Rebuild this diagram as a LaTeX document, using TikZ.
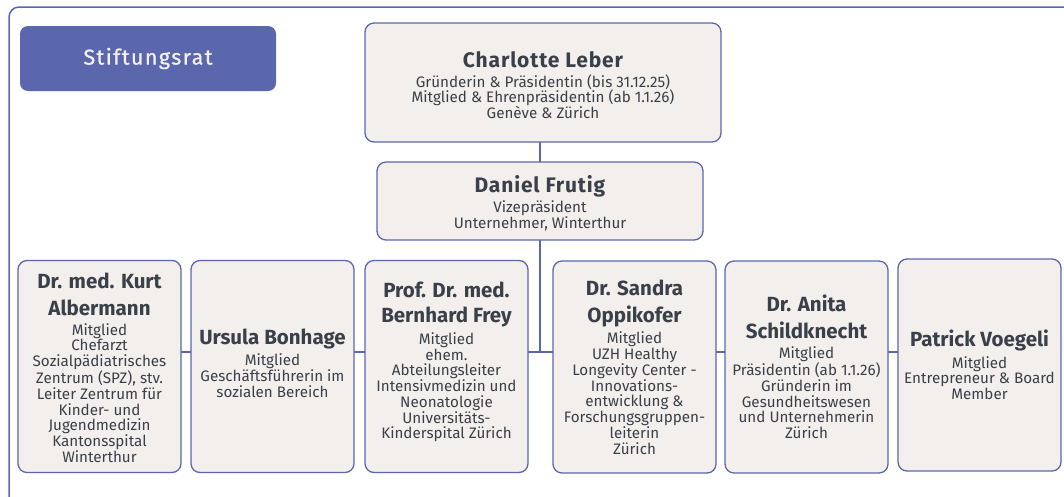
\documentclass[tikz,border=0pt]{standalone}
\usepackage{fontspec}
\setmainfont{Fira Sans}
\newfontfamily\titlefont[LetterSpace=6.5, FakeBold=0.8]{Fira Sans}
\newfontfamily\topnamefont[LetterSpace=4]{Fira Sans}
\definecolor{frameblue}{HTML}{5B67AD}
\definecolor{boxfill}{HTML}{F2EFEC}
\definecolor{txt}{HTML}{3A4049}
\definecolor{titletxt}{HTML}{F3F0ED}
\newcommand{\nm}[1]{{\fontsize{20.5}{21}\selectfont\bfseries #1}}
\newcommand{\tnm}[1]{{\topnamefont\fontsize{21}{21}\selectfont\bfseries #1}}
\tikzset{
  member/.style={draw=frameblue, fill=boxfill, rounded corners=9pt, line width=1.3pt,
    align=center, text=txt, inner sep=0pt, font=\fontsize{15.2}{15.75}\selectfont},
  conn/.style={draw=frameblue, line width=1.3pt},
}
\begin{document}
\begin{tikzpicture}[x=1pt,y=-1pt]
\useasboundingbox (0,0) rectangle (1064,496);
% outer frame
\draw[frameblue, line width=1.5pt, rounded corners=10pt] (9,497) -- (9,7) -- (1066,7);
% title
\node[fill=frameblue, rounded corners=8pt, minimum width=256pt, minimum height=65pt, inner sep=0pt,
  text=titletxt, font=\titlefont\fontsize{21.5}{24}\selectfont] (title) at (148,58.5) {Stiftungsrat};

% connectors (behind boxes)
\coordinate (junction) at (540,352);
\draw[conn] (99.5,352) -- (979.5,352);
\draw[conn] (540,142) -- (540,352);

\node[member, minimum width=356pt, minimum height=119pt] (leber) at (543,82.5)
 {\rule{0pt}{21pt}\tnm{Charlotte Leber}\\[4pt]
  Gründerin \& Präsidentin (bis 31.12.25)\\
  Mitglied \& Ehrenpräsidentin (ab 1.1.26)\\
  Genève \& Zürich};
\node[member, minimum width=326pt, minimum height=78pt] (frutig) at (540,201)
 {\rule{0pt}{21pt}\tnm{Daniel Frutig}\\[3pt]
  Vizepräsident\\
  Unternehmer, Winterthur};

\node[member, minimum width=163pt, minimum height=212pt] (albermann) at (99.5,366.5)
 {\rule{0pt}{18pt}\nm{Dr. med. Kurt}\\[10pt]
  \nm{Albermann}\\[4pt]
  Mitglied\\
  Chefarzt\\
  Sozialpädiatrisches\\
  Zentrum (SPZ), stv.\\
  Leiter Zentrum für\\
  Kinder- und\\
  Jugendmedizin\\
  Kantonsspital\\
  Winterthur};
\node[member, minimum width=163pt, minimum height=212pt] (bonhage) at (272.5,366.5)
 {\nm{Ursula Bonhage}\\[4pt]
  Mitglied\\
  Geschäftsführerin im\\
  sozialen Bereich\\[-9pt]};
\node[member, minimum width=163pt, minimum height=212pt] (frey) at (446.5,366.5)
 {\nm{Prof. Dr. med.}\\[9pt]
  \nm{Bernhard Frey}\\[4pt]
  Mitglied\\
  ehem.\\
  Abteilungsleiter\\
  Intensivmedizin und\\
  Neonatologie\\
  Universitäts-\\
  Kinderspital Zürich\\[-3pt]};
\node[member, minimum width=163pt, minimum height=212pt] (oppikofer) at (634.5,367)
 {\nm{Dr. Sandra}\\[9pt]
  \nm{Oppikofer}\\[4pt]
  Mitglied\\
  UZH Healthy\\
  Longevity Center -\\
  Innovations-\\
  entwicklung \&\\
  Forschungsgruppen-\\
  leiterin\\
  Zürich};
\node[member, minimum width=163pt, minimum height=212pt] (schildknecht) at (806.5,367)
 {\nm{Dr. Anita}\\[9pt]
  \nm{Schildknecht}\\[4pt]
  Mitglied\\
  Präsidentin (ab 1.1.26)\\
  Gründerin im\\
  Gesundheitswesen\\
  und Unternehmerin\\
  Zürich};
\node[member, minimum width=163pt, minimum height=212pt] (voegeli) at (979.5,365)
 {\nm{Patrick Voegeli}\\[4pt]
  Mitglied\\
  Entrepreneur \& Board\\
  Member};
\end{tikzpicture}
\end{document}
